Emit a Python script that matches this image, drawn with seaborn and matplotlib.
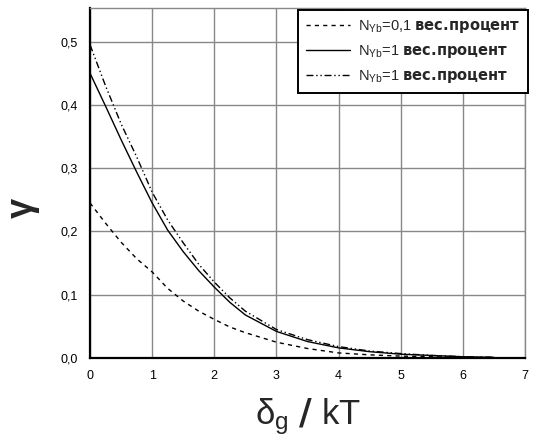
import numpy as np
import pandas as pd
import matplotlib
matplotlib.use("Agg")
import matplotlib.pyplot as plt
import seaborn as sns
from matplotlib.ticker import MultipleLocator

# values
x_vals = [0, 0.25, 0.5, 0.75, 1, 1.25, 1.5, 1.75, 2, 2.25, 2.5, 3, 3.5, 4, 4.5, 5, 5.5, 6, 6.5]
gamma_01 = [0.245, 0.213, 0.183, 0.157, 0.136, 0.110, 0.090, 0.074, 0.061, 0.049, 0.040,
            0.025, 0.015, 0.008, 0.005, 0.003, 0.002, 0.001, 0.001]
gamma_1a = [0.450, 0.398, 0.345, 0.294, 0.245, 0.202, 0.168, 0.138, 0.112, 0.088, 0.068,
            0.042, 0.026, 0.016, 0.010, 0.006, 0.004, 0.002, 0.001]
gamma_1b = [0.495, 0.430, 0.370, 0.318, 0.262, 0.218, 0.182, 0.148, 0.120, 0.095, 0.074,
            0.045, 0.029, 0.018, 0.011, 0.007, 0.004, 0.002, 0.001]
labels = [r"N$_{\mathregular{Yb}}$=0,1 $\mathbf{вес.\!процент}$",
          r"N$_{\mathregular{Yb}}$=1 $\mathbf{вес.\!процент}$",
          r"N$_{\mathregular{Yb}}$=1 $\mathbf{вес.\!процент}$"]
y_ticks = [0, 0.1, 0.2, 0.3, 0.4, 0.5]
y_ticklabels = ["0,0", "0,1", "0,2", "0,3", "0,4", "0,5"]

style_keys = ["a", "b", "c"]
df = pd.DataFrame({
    "x": x_vals * 3,
    "y": gamma_01 + gamma_1a + gamma_1b,
    "series": [k for k in style_keys for _ in x_vals],
})

sns.set_style("white")
plt.rcParams["font.family"] = ["Liberation Sans", "DejaVu Sans"]
plt.rcParams["mathtext.fontset"] = "dejavusans"

fig = plt.figure(figsize=(5.41, 4.47), dpi=100)
ax = fig.add_axes([0.1664, 0.1991, 0.804, 0.7829])

dash_map = {"a": (3, 3), "b": "", "c": (5, 2, 1, 2, 1, 2)}
sns.lineplot(data=df, x="x", y="y", style="series", dashes=dash_map, color="black",
             linewidth=1.0, ax=ax, legend=False)

ax.set_xlim(0, 7)
ax.set_ylim(0, 0.553)
ax.xaxis.set_major_locator(MultipleLocator(1))
ax.xaxis.set_minor_locator(MultipleLocator(0.5))
ax.yaxis.set_minor_locator(MultipleLocator(0.05))
ax.set_yticks(y_ticks)
ax.set_yticklabels(y_ticklabels)
ax.grid(True, which="major", color="#888888", linewidth=1.0)
ax.tick_params(which="major", direction="inout", length=10, width=1.2, labelsize=9,
               top=False, right=False, colors="black")
ax.tick_params(which="minor", direction="inout", length=7, width=1.2, top=False, right=False)

for side in ["left", "bottom"]:
    ax.spines[side].set_color("black")
    ax.spines[side].set_linewidth(1.6)
for side in ["top", "right"]:
    ax.spines[side].set_color("#888888")
    ax.spines[side].set_linewidth(1.0)

ax.set_xlabel(r"$\mathregular{\delta_g}$ $\mathbf{/}$ kT", fontsize=25)
ax.xaxis.set_label_coords(0.5, -0.11)
ax.set_ylabel("γ", fontsize=26, fontweight="bold", rotation=90)
ax.yaxis.set_label_coords(-0.115, 0.43)

handles = ax.get_lines()[:3]
leg = ax.legend(handles, labels, loc="upper right", bbox_to_anchor=(1.007, 0.994),
                frameon=True, fancybox=False, fontsize=10.5, handlelength=3.0,
                borderpad=0.55, labelspacing=0.55, handletextpad=0.5, framealpha=1,
                borderaxespad=0)
leg.get_frame().set_edgecolor("black")
leg.get_frame().set_linewidth(1.4)

fig.savefig("out.png", dpi=100)
